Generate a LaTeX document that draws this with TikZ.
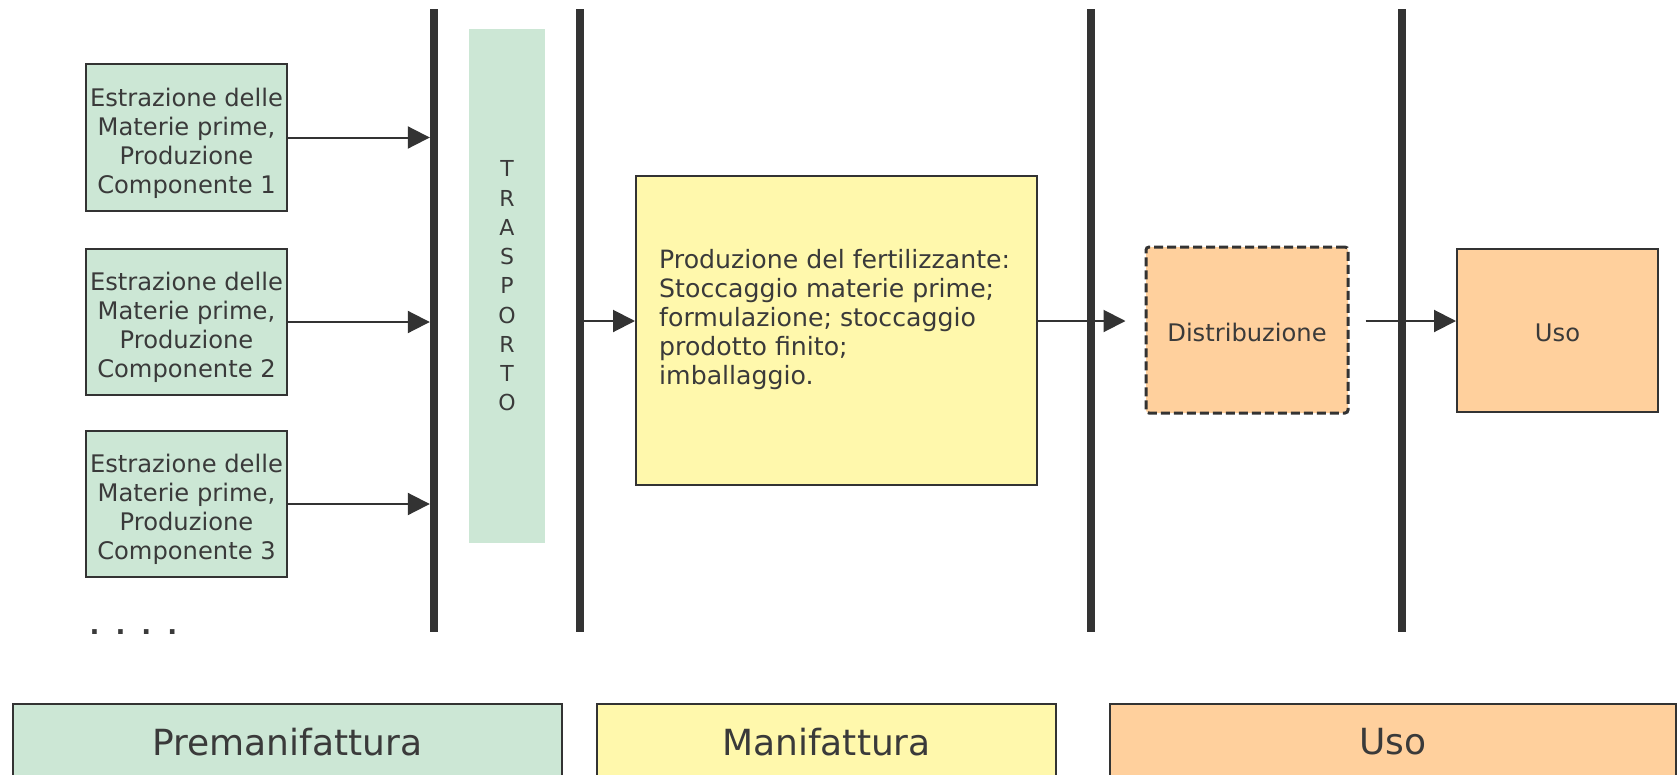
\documentclass[tikz,border=0pt]{standalone}
\usepackage{fontspec}
\setmainfont{DejaVu Sans}
\usetikzlibrary{arrows.meta,calc}
\definecolor{pregreen}{HTML}{CCE7D5}
\definecolor{manyellow}{HTML}{FFF8AC}
\definecolor{usoorange}{HTML}{FFD09D}
\definecolor{ink}{HTML}{333333}
\definecolor{txt}{HTML}{3A3A3A}

\begin{document}
\begin{tikzpicture}[x=1pt,y=-1pt,
  every node/.style={text=txt},
  boxtext/.style={font=\fontsize{24.2}{29}\selectfont},
  phasebox/.style={draw=ink, line width=2pt, inner sep=0pt},
  boxlabel/.style={boxtext, align=center, inner sep=0pt},
  bar/.style={fill=ink, minimum width=8pt, minimum height=623pt, inner sep=0pt},
  flowarrow/.style={draw=ink, line width=2pt, -{Triangle[length=22pt,width=22pt]}},
  legend/.style={draw=ink, line width=2pt, minimum height=76pt, inner sep=0pt,
    font=\fontsize{36}{43}\selectfont},
]
\useasboundingbox (0,0) rectangle (1679,774);
\clip (0,0) rectangle (1679,774);

% main flow level
\coordinate (flow) at (0,321);

% raw material / component boxes
\node[phasebox, fill=pregreen, minimum width=201pt, minimum height=147pt] (comp1) at (186.5,137.5) {};
\node[phasebox, fill=pregreen, minimum width=201pt, minimum height=146pt] (comp2) at (186.5,322) {};
\node[phasebox, fill=pregreen, minimum width=201pt, minimum height=146pt] (comp3) at (186.5,504) {};
\node[boxlabel] (comp1text) at ([yshift=-5.5pt]comp1.center)
  {Estrazione delle\\Materie prime,\\Produzione\\Componente 1};
\node[boxlabel] (comp2text) at ([yshift=-5.5pt]comp2.center)
  {Estrazione delle\\Materie prime,\\Produzione\\Componente 2};
\node[boxlabel] (comp3text) at ([yshift=-5.5pt]comp3.center)
  {Estrazione delle\\Materie prime,\\Produzione\\Componente 3};
\node[font=\fontsize{26}{29}\selectfont\bfseries, anchor=base] (more) at (133.5,634)
  {.\kern16pt.\kern16pt.\kern16pt.};

% transport strip
\node[fill=pregreen, minimum width=76pt, minimum height=514pt, inner sep=0pt] (trasp) at (507,286) {};
\node[font=\fontsize{22}{29.25}\selectfont, align=center] (trasptext) at (trasp.center)
  {T\\R\\A\\S\\P\\O\\R\\T\\O};

% manufacturing box
\node[draw=ink, line width=2pt, fill=manyellow, minimum width=401pt, minimum height=309pt] (prod) at (836.5,330.5) {};
\node[font=\fontsize{25.2}{29}\selectfont, align=left, anchor=west, inner sep=0pt] (prodtext) at (659,320)
  {Produzione del fertilizzante:\\Stoccaggio materie prime;\\formulazione; stoccaggio\\prodotto finito;\\imballaggio.};

% distribution and use
\node[draw=ink, line width=3pt, dash pattern=on 9pt off 4pt, rounded corners=3pt,
  fill=usoorange, minimum width=202pt, minimum height=166pt] (distr) at (1247,330) {};
\node[boxlabel] (distrtext) at ([yshift=-2pt]distr.center) {Distribuzione};
\node[phasebox, fill=usoorange, minimum width=201pt, minimum height=163pt] (uso) at (1557.5,330.5) {};
\node[boxlabel] (usotext) at ([yshift=-2pt]uso.center) {Uso};

% phase separators
\node[bar] (bar1) at (434,320.5) {};
\node[bar] (bar2) at (580,320.5) {};
\node[bar] (bar3) at (1091,320.5) {};
\node[bar] (bar4) at (1402,320.5) {};

% connectors
\draw[flowarrow] (comp1.east) -- (comp1.east -| bar1.west);
\draw[flowarrow] (comp2.east) -- (comp2.east -| bar1.west);
\draw[flowarrow] (comp3.east) -- (comp3.east -| bar1.west);
\draw[flowarrow] (bar2.east |- flow) -- (prod.west |- flow);
\draw[flowarrow, shorten >=19pt] (prod.east |- flow) -- (distr.west |- flow);
\draw[flowarrow, shorten <=16pt] (distr.east |- flow) -- (uso.west |- flow);

% phase legend
\node[legend, fill=pregreen, minimum width=549pt] (legpre) at (287.5,742) {Premanifattura};
\node[legend, fill=manyellow, minimum width=459pt] (legman) at (826.5,742) {Manifattura};
\node[legend, fill=usoorange, minimum width=566pt] (leguso) at (1393,742) {Uso};
\end{tikzpicture}
\end{document}
